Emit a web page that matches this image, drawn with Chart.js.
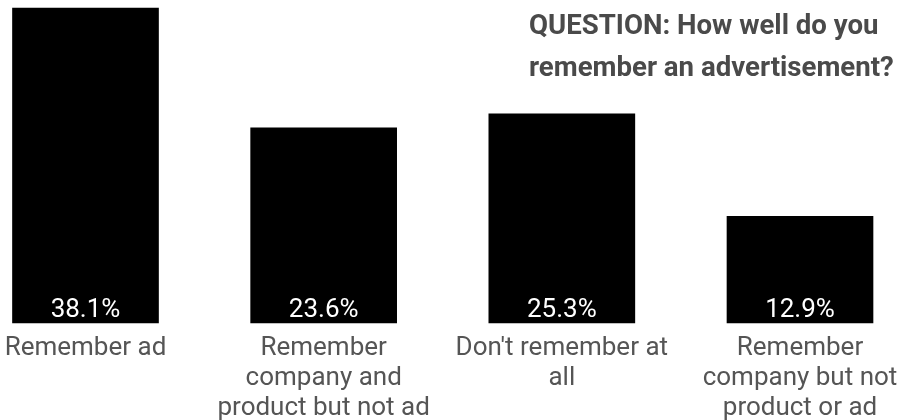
<!DOCTYPE html>
<html>
<head>
<meta charset="utf-8">
<script src="https://cdn.jsdelivr.net/npm/chart.js@4"></script>
<style>
  html, body { margin: 0; padding: 0; background: #fff; }
  #wrap { width: 902px; height: 420px; position: relative; }
</style>
</head>
<body>
<div id="wrap"><canvas id="adChart"></canvas></div>
<script>
/* data */
const categories = [
  ['Remember ad'],
  ['Remember', 'company and', 'product but not ad'],
  ["Don't remember at", 'all'],
  ['Remember', 'company but not', 'product or ad']
];
const shares = [38.1, 23.6, 25.3, 12.9];
const questionLines = ['QUESTION: How well do you', 'remember an advertisement?'];

const FONT = 'Roboto, "Noto Sans", sans-serif';

/* white percentage inside the foot of each bar */
const valueLabels = {
  id: 'valueLabels',
  afterDatasetsDraw(chart) {
    const ctx = chart.ctx;
    const meta = chart.getDatasetMeta(0);
    const base = chart.scales.y.getPixelForValue(0);
    ctx.save();
    ctx.fillStyle = '#fff';
    ctx.font = '26px ' + FONT;
    ctx.textAlign = 'center';
    ctx.textBaseline = 'alphabetic';
    meta.data.forEach((bar, i) => {
      ctx.fillText(shares[i].toFixed(1) + '%', bar.x, base - 6.5);
    });
    ctx.restore();
  }
};

/* question text in the top right corner */
const questionText = {
  id: 'questionText',
  afterDraw(chart) {
    const ctx = chart.ctx;
    ctx.save();
    ctx.fillStyle = '#4a4a4a';
    ctx.font = 'bold 27.6px ' + FONT;
    ctx.textAlign = 'left';
    ctx.textBaseline = 'alphabetic';
    questionLines.forEach((line, i) => {
      ctx.fillText(line, 529, 34 + i * 42);
    });
    ctx.restore();
  }
};

new Chart(document.getElementById('adChart'), {
  type: 'bar',
  data: {
    labels: categories,
    datasets: [{
      data: shares,
      backgroundColor: '#000',
      borderWidth: 0,
      barThickness: 146,
      clip: false
    }]
  },
  options: {
    responsive: true,
    maintainAspectRatio: false,
    animation: false,
    layout: { padding: { left: 85.5, right: 102, top: 8, bottom: 0 } },
    plugins: {
      legend: { display: false },
      tooltip: { enabled: false }
    },
    scales: {
      x: {
        offset: false,
        grid: { display: false, drawTicks: false },
        border: { display: false },
        ticks: {
          color: '#555',
          font: { family: FONT, size: 26, lineHeight: 1.15 },
          padding: 10.4,
          maxRotation: 0,
          autoSkip: false
        },
        afterFit(scale) {
          // keep the plot edges set by layout padding, not by label overhang
          scale.height = 97;
          scale.paddingLeft = 0;
          scale.paddingRight = 0;
        }
      },
      y: {
        display: false,
        min: 0,
        max: 38.1
      }
    }
  },
  plugins: [valueLabels, questionText]
});
</script>
</body>
</html>
